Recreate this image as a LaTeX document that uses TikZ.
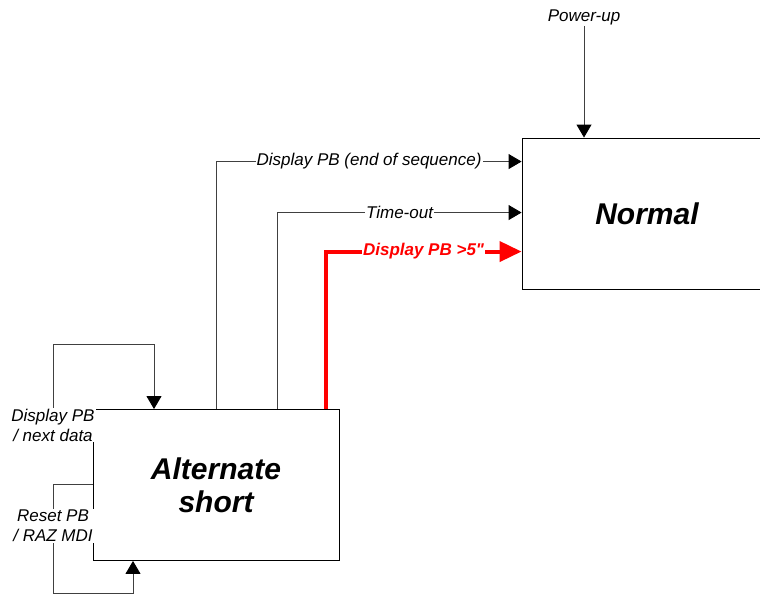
\documentclass[tikz,border=0pt]{standalone}
\usepackage{fontspec}
\setmainfont{Liberation Sans}
\usetikzlibrary{arrows.meta}
\begin{document}
\begin{tikzpicture}[x=1pt, y=-1pt,
    state/.style={draw, line width=0.9pt, align=center, inner sep=0pt,
        font=\fontsize{30}{33}\selectfont\bfseries\itshape},
    lbl/.style={fill=white, inner sep=1pt, align=center,
        font=\fontsize{17}{20}\selectfont\itshape},
    hotlbl/.style={lbl, text=red, font=\fontsize{17}{20}\selectfont\bfseries\itshape},
    link/.style={draw=black!75, line width=0.9pt},
    arr/.style={link, -{Triangle[length=13pt, width=15pt, color=black]}},
    hold/.style={draw=red, line width=4pt, -{Triangle[length=22pt, width=20pt]}}]
    \useasboundingbox (0,0) rectangle (760,594);

    % States
    \node[state, minimum width=250pt, minimum height=151pt] (normal) at (647,213.5) {Normal};
    \node[state, minimum width=246pt, minimum height=151pt] (alt) at (216,485) {Alternate\\short};

    % Power-up entry
    \node[lbl] (pwr) at (584,17) {Power-up};
    \draw[arr] (pwr.south) -- (pwr.south |- normal.north);

    % Transitions back to Normal
    \draw[arr] ([xshift=124pt]alt.north west) |- node[lbl, pos=0.75] {Display PB (end of sequence)} ([yshift=-24pt]normal.north west);
    \draw[arr] ([xshift=185pt]alt.north west) |- node[lbl, pos=0.75] {Time-out} ([yshift=-75pt]normal.north west);
    \draw[hold] ([xshift=233pt]alt.north west) |- node[hotlbl, pos=0.75] {Display PB >5\textquotedbl} ([yshift=-114pt]normal.north west);

    % Self loops on Alternate short
    \node[lbl] (nxt) at (53,425) {Display PB\\/ next data};
    \node[lbl] (rst) at (53,526) {Reset PB\\/ RAZ MDI};
    \coordinate (ret1) at (154,344);
    \coordinate (ret2) at (133,593);
    \draw[arr] (nxt.north) |- (ret1) -- (ret1 |- alt.north);
    \draw[link] ([yshift=-75pt]alt.north west) -| (rst.north);
    \draw[arr] (rst.south) |- (ret2) -- (ret2 |- alt.south);

\end{tikzpicture}
\end{document}
